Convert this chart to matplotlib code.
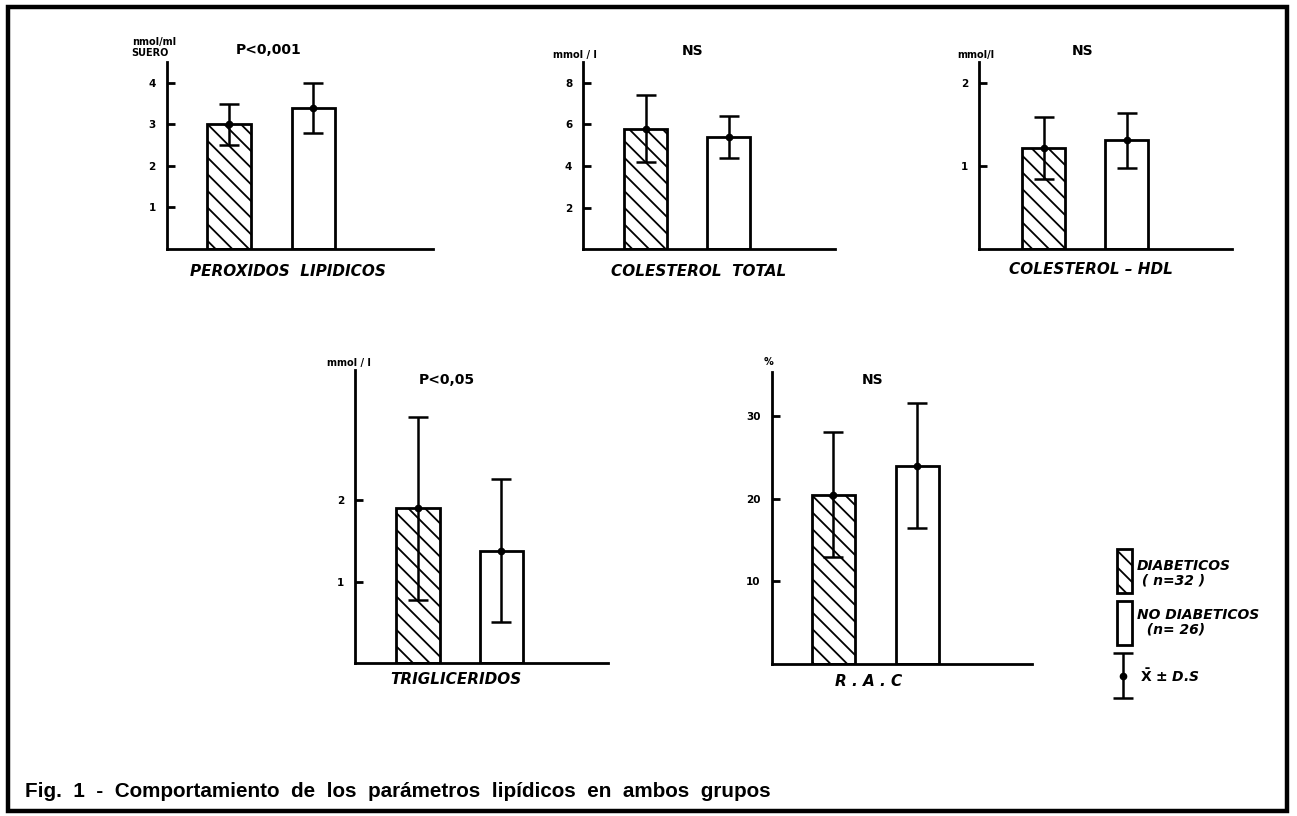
import matplotlib
matplotlib.use('Agg')
import matplotlib.pyplot as plt
from matplotlib.patches import Rectangle

plt.rcParams['font.family'] = ['DejaVu Sans']
plt.rcParams['hatch.linewidth'] = 1.3
plt.rcParams['hatch.color'] = 'black'
plt.rcParams['mathtext.fontset'] = 'dejavusans'

W, H = 1297, 816

# ---------------- data ----------------
categories = ['PEROXIDOS  LIPIDICOS', 'COLESTEROL  TOTAL', 'COLESTEROL – HDL',
              'TRIGLICERIDOS', 'R . A . C']
units = ['nmol/ml\nSUERO', 'mmol / l', 'mmol/l', 'mmol / l', '%']
significance = ['P<0,001', 'NS', 'NS', 'P<0,05', 'NS']
diab_mean = [3.0, 5.8, 1.22, 1.9, 20.5]
diab_sd = [0.5, 1.6, 0.37, 1.12, 7.6]
nodiab_mean = [3.4, 5.4, 1.31, 1.38, 24.0]
nodiab_sd = [0.6, 1.0, 0.33, 0.88, 7.5]
yticks = [[1, 2, 3, 4], [2, 4, 6, 8], [1, 2], [1, 2], [10, 20, 30]]
ytick_labels = [['1', '2', '3', '4'], ['2', '4', '6', '8'], ['1', '2'], ['1', '2'],
                ['10', '20', '30']]
ymax = [4.5, 9.0, 2.25, 3.59, 35.3]
group_labels = ['DIABETICOS\n ( n=32 )', 'NO DIABETICOS\n  (n= 26)']
sd_label = r'$\mathbf{\bar{X}}$ ± D.S'
caption = 'Fig.  1  -  Comportamiento  de  los  parámetros  lipídicos  en  ambos  grupos'

# ---------------- layout (pixels) ----------------
# x of y-axis, x right end, y top, y baseline, xlim
layout = [
    (166.7, 433.0, 62.0, 249.0, (-0.737, 2.414)),
    (583.3, 835.0, 62.0, 249.3, (-0.750, 2.280)),
    (979.3, 1231.7, 62.0, 249.3, (-0.778, 2.270)),
    (355.5, 608.0, 370.0, 663.3, (-0.750, 2.280)),
    (771.5, 1031.7, 372.0, 664.3, (-0.736, 2.360)),
]
unit_pos = [(131.7, 47.5, 'left'), (575, 55, 'center'), (976, 55, 'center'),
            (349, 363, 'center'), (769, 362, 'center')]
title_pos = [(269, 50), (693, 51), (1083, 51), (446.5, 380), (873, 380)]
xlabel_pos = [(288, 272), (698.5, 271), (1090.5, 270), (456, 680), (869, 682)]

fig = plt.figure(figsize=(W / 100, H / 100), dpi=100)
fig.patch.set_facecolor('white')

xpos = [0, 1]
barw = 0.52
LW = 2.0

for i in range(5):
    x0, x1, yt, yb, xl = layout[i]
    ax = fig.add_axes([x0 / W, 1 - yb / H, (x1 - x0) / W, (yb - yt) / H])
    ax.set_facecolor('none')
    ax.bar(xpos[0], diab_mean[i], width=barw, facecolor='white', edgecolor='black',
           linewidth=LW, hatch='\\\\', zorder=2)
    ax.bar(xpos[1], nodiab_mean[i], width=barw, facecolor='white', edgecolor='black',
           linewidth=LW, zorder=2)
    ax.errorbar(xpos, [diab_mean[i], nodiab_mean[i]], yerr=[diab_sd[i], nodiab_sd[i]],
                fmt='o', color='black', ms=4.5, capsize=7, elinewidth=1.8,
                capthick=1.8, zorder=3)
    ax.set_xlim(*xl)
    ax.set_ylim(0, ymax[i])
    for s in ['top', 'right']:
        ax.spines[s].set_visible(False)
    for s in ['left', 'bottom']:
        ax.spines[s].set_linewidth(LW)
    ax.set_xticks([])
    ax.set_yticks(yticks[i])
    ax.set_yticklabels(ytick_labels[i], fontsize=7.5, fontweight='bold')
    ax.tick_params(axis='y', direction='in', length=6, width=LW, pad=8)

# overlay for text, legend, frame
ov = fig.add_axes([0, 0, 1, 1])
ov.set_xlim(0, W)
ov.set_ylim(H, 0)
ov.axis('off')

for i in range(5):
    ux, uy, ha = unit_pos[i]
    ov.text(ux, uy, units[i], ha=ha, va='center', fontsize=7, fontweight='bold',
            linespacing=1.1, multialignment='left')
    tx, ty = title_pos[i]
    ov.text(tx, ty, significance[i], ha='center', va='center', fontsize=10,
            fontweight='bold')
    lx, ly = xlabel_pos[i]
    ov.text(lx, ly, categories[i], ha='center', va='center', fontsize=11,
            fontweight='bold', fontstyle='italic')

# legend
ov.add_patch(Rectangle((1117.3, 549.3), 14.4, 44, facecolor='white', edgecolor='black',
                       linewidth=LW, hatch='\\\\'))
ov.add_patch(Rectangle((1117.3, 601), 14.4, 44, facecolor='white', edgecolor='black',
                       linewidth=LW))
ov.text(1137, 573, group_labels[0], ha='left', va='center', fontsize=10,
        fontweight='bold', fontstyle='italic', linespacing=1.05)
ov.text(1137, 622, group_labels[1], ha='left', va='center', fontsize=10,
        fontweight='bold', fontstyle='italic', linespacing=1.05)
ov.errorbar([1123.3], [675.7], yerr=[22.5], fmt='o', color='black', ms=4.5,
            capsize=7, elinewidth=1.8, capthick=1.8)
ov.text(1140, 676, sd_label, ha='left', va='center', fontsize=10,
        fontweight='bold', fontstyle='italic')

# caption
ov.text(25, 797, caption, ha='left', va='baseline', fontsize=14.9, fontweight='bold',
        family=['Liberation Sans', 'DejaVu Sans'])

# frame
ov.add_patch(Rectangle((7.5, 6.5), 1279.5, 804.5, fill=False, edgecolor='black',
                       linewidth=3.2, clip_on=False))

fig.savefig('out.png', dpi=100, facecolor='white')
